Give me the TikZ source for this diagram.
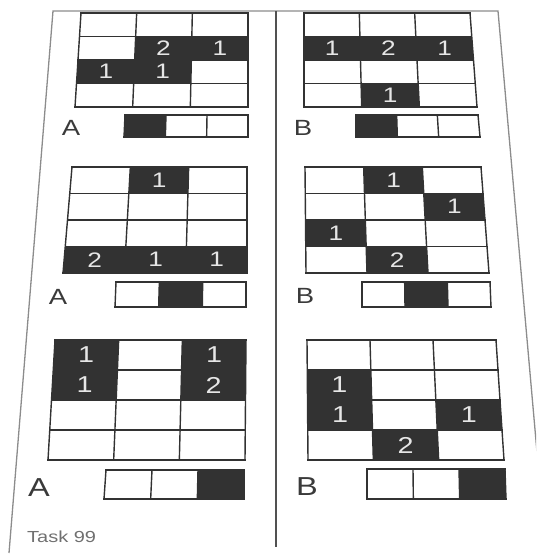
\documentclass[tikz,border=0pt]{standalone}
\usepackage{fontspec}
\setmainfont{Liberation Sans}[FakeStretch=1.25]
\usetikzlibrary{calc}

\definecolor{ink}{HTML}{323232}
\definecolor{rulegray}{HTML}{323232}
\definecolor{numwhite}{HTML}{E6E6E6}
\definecolor{taggray}{HTML}{3A3A3A}
\definecolor{pagegray}{HTML}{8C8C8C}

% lattice points of board #1 (3 columns, #2 rows)
\newcommand\board[2]{%
  \foreach \i in {0,...,3}{
    \foreach \j in {0,...,#2}{
      \pgfmathsetmacro\bu{\i/3}
      \pgfmathsetmacro\bv{\j/#2}
      \coordinate (#1-\i-\j) at ($($(#1nw)!\bv!(#1sw)$)!\bu!($(#1ne)!\bv!(#1se)$)$);
    }
  }%
}
% black cell: board, column, row
\newcommand\markcell[3]{%
  \pgfmathtruncatemacro\ci{#2-1}
  \pgfmathtruncatemacro\rj{#3-1}
  \fill[ink] (#1-\ci-\rj) -- (#1-#2-\rj) -- (#1-#2-#3) -- (#1-\ci-#3) -- cycle;
}
% black cell with a number in it
\newcommand\darkcell[4]{%
  \markcell{#1}{#2}{#3}
  \node[num] (#1-n#2#3) at ($(#1-\ci-\rj)!.5!(#1-#2-#3)$) {#4};
}
\newcommand\boardrules[2]{%
  \foreach \j in {0,...,#2} \draw[rule] (#1-0-\j) -- (#1-3-\j);
  \foreach \i in {0,...,3} \draw[rule] (#1-\i-0) -- (#1-\i-#2);
}

\begin{document}
\begin{tikzpicture}[
        x=1pt, y=-1pt,
        rule/.style={draw=rulegray, line width=1.4pt, line cap=rect},
        num/.style={text=numwhite, inner sep=0pt, font=\fontsize{21}{21}\selectfont},
        tag/.style={text=taggray, inner sep=0pt, font=\fontsize{22}{22}\selectfont},
        page/.style={draw=pagegray, line width=1.3pt},
    ]
    \useasboundingbox (0,0) rectangle (536,554);
    \clip (0,0) rectangle (536,554);

    % sheet outline and middle line
    \coordinate (pnw) at (53,11);
    \coordinate (pne) at (498,11);
    \coordinate (psw) at (9,553);
    \coordinate (pse) at (546,554);
    \coordinate (mtop) at (276,11);
    \coordinate (mbot) at (276,547);
    \draw[page] (psw) -- (pnw) -- (pne) -- (pse);
    \draw[page, draw=rulegray!85] (mtop) -- (mbot);

    % top row
    \coordinate (g1nw) at (81,13);  \coordinate (g1ne) at (248,13);
    \coordinate (g1sw) at (75,107); \coordinate (g1se) at (248,107);
    \board{g1}{4}
    \darkcell{g1}{2}{2}{2} \darkcell{g1}{3}{2}{1}
    \darkcell{g1}{1}{3}{1} \darkcell{g1}{2}{3}{1}
    \boardrules{g1}{4}

    \coordinate (a1nw) at (125,115); \coordinate (a1ne) at (248,115);
    \coordinate (a1sw) at (124,137); \coordinate (a1se) at (248,137);
    \board{a1}{1}
    \markcell{a1}{1}{1}
    \boardrules{a1}{1}
    \node[tag] (la1) at (71,128) {A};

    \coordinate (g2nw) at (304,13);  \coordinate (g2ne) at (470,13);
    \coordinate (g2sw) at (304,107); \coordinate (g2se) at (477,107);
    \board{g2}{4}
    \darkcell{g2}{1}{2}{1} \darkcell{g2}{2}{2}{2} \darkcell{g2}{3}{2}{1}
    \darkcell{g2}{2}{4}{1}
    \boardrules{g2}{4}

    \coordinate (b1nw) at (356,115); \coordinate (b1ne) at (478,115);
    \coordinate (b1sw) at (356,137); \coordinate (b1se) at (480,137);
    \board{b1}{1}
    \markcell{b1}{1}{1}
    \boardrules{b1}{1}
    \node[tag] (lb1) at (303,128) {B};

    % middle row
    \coordinate (g3nw) at (72,167); \coordinate (g3ne) at (247,167);
    \coordinate (g3sw) at (63,273); \coordinate (g3se) at (247,273);
    \board{g3}{4}
    \darkcell{g3}{2}{1}{1}
    \darkcell{g3}{1}{4}{2} \darkcell{g3}{2}{4}{1} \darkcell{g3}{3}{4}{1}
    \boardrules{g3}{4}

    \coordinate (a2nw) at (116,282); \coordinate (a2ne) at (246,282);
    \coordinate (a2sw) at (115,307); \coordinate (a2se) at (246,307);
    \board{a2}{1}
    \markcell{a2}{2}{1}
    \boardrules{a2}{1}
    \node[tag] (la2) at (58,297) {A};

    \coordinate (g4nw) at (305,167); \coordinate (g4ne) at (481,167);
    \coordinate (g4sw) at (306,273); \coordinate (g4se) at (489,273);
    \board{g4}{4}
    \darkcell{g4}{2}{1}{1} \darkcell{g4}{3}{2}{1}
    \darkcell{g4}{1}{3}{1} \darkcell{g4}{2}{4}{2}
    \boardrules{g4}{4}

    \coordinate (b2nw) at (362,282); \coordinate (b2ne) at (490,282);
    \coordinate (b2sw) at (362,307); \coordinate (b2se) at (491,307);
    \board{b2}{1}
    \markcell{b2}{2}{1}
    \boardrules{b2}{1}
    \node[tag] (lb2) at (305,296) {B};

    % bottom row
    \begin{scope}[num/.append style={font=\fontsize{23}{23}\selectfont},
                  tag/.append style={font=\fontsize{26}{26}\selectfont}]
    \coordinate (g5nw) at (55,340); \coordinate (g5ne) at (246,340);
    \coordinate (g5sw) at (48,460); \coordinate (g5se) at (245,460);
    \board{g5}{4}
    \darkcell{g5}{1}{1}{1} \darkcell{g5}{3}{1}{1}
    \darkcell{g5}{1}{2}{1} \darkcell{g5}{3}{2}{2}
    \boardrules{g5}{4}

    \coordinate (a3nw) at (106,470); \coordinate (a3ne) at (244,470);
    \coordinate (a3sw) at (104,499); \coordinate (a3se) at (244,499);
    \board{a3}{1}
    \markcell{a3}{3}{1}
    \boardrules{a3}{1}
    \node[tag] (la3) at (39,488) {A};

    \coordinate (g6nw) at (307,340); \coordinate (g6ne) at (496,340);
    \coordinate (g6sw) at (308,460); \coordinate (g6se) at (504,460);
    \board{g6}{4}
    \darkcell{g6}{1}{2}{1} \darkcell{g6}{1}{3}{1}
    \darkcell{g6}{3}{3}{1} \darkcell{g6}{2}{4}{2}
    \boardrules{g6}{4}

    \coordinate (b3nw) at (367,469); \coordinate (b3ne) at (505,469);
    \coordinate (b3sw) at (367,499); \coordinate (b3se) at (506,499);
    \board{b3}{1}
    \markcell{b3}{3}{1}
    \boardrules{b3}{1}
    \node[tag] (lb3) at (307,487) {B};
    \end{scope}

    \node[anchor=west, inner sep=0pt, text=pagegray!80!black,
        font=\fontsize{16}{16}\selectfont] (task) at (27,537) {Task 99};
\end{tikzpicture}
\end{document}
